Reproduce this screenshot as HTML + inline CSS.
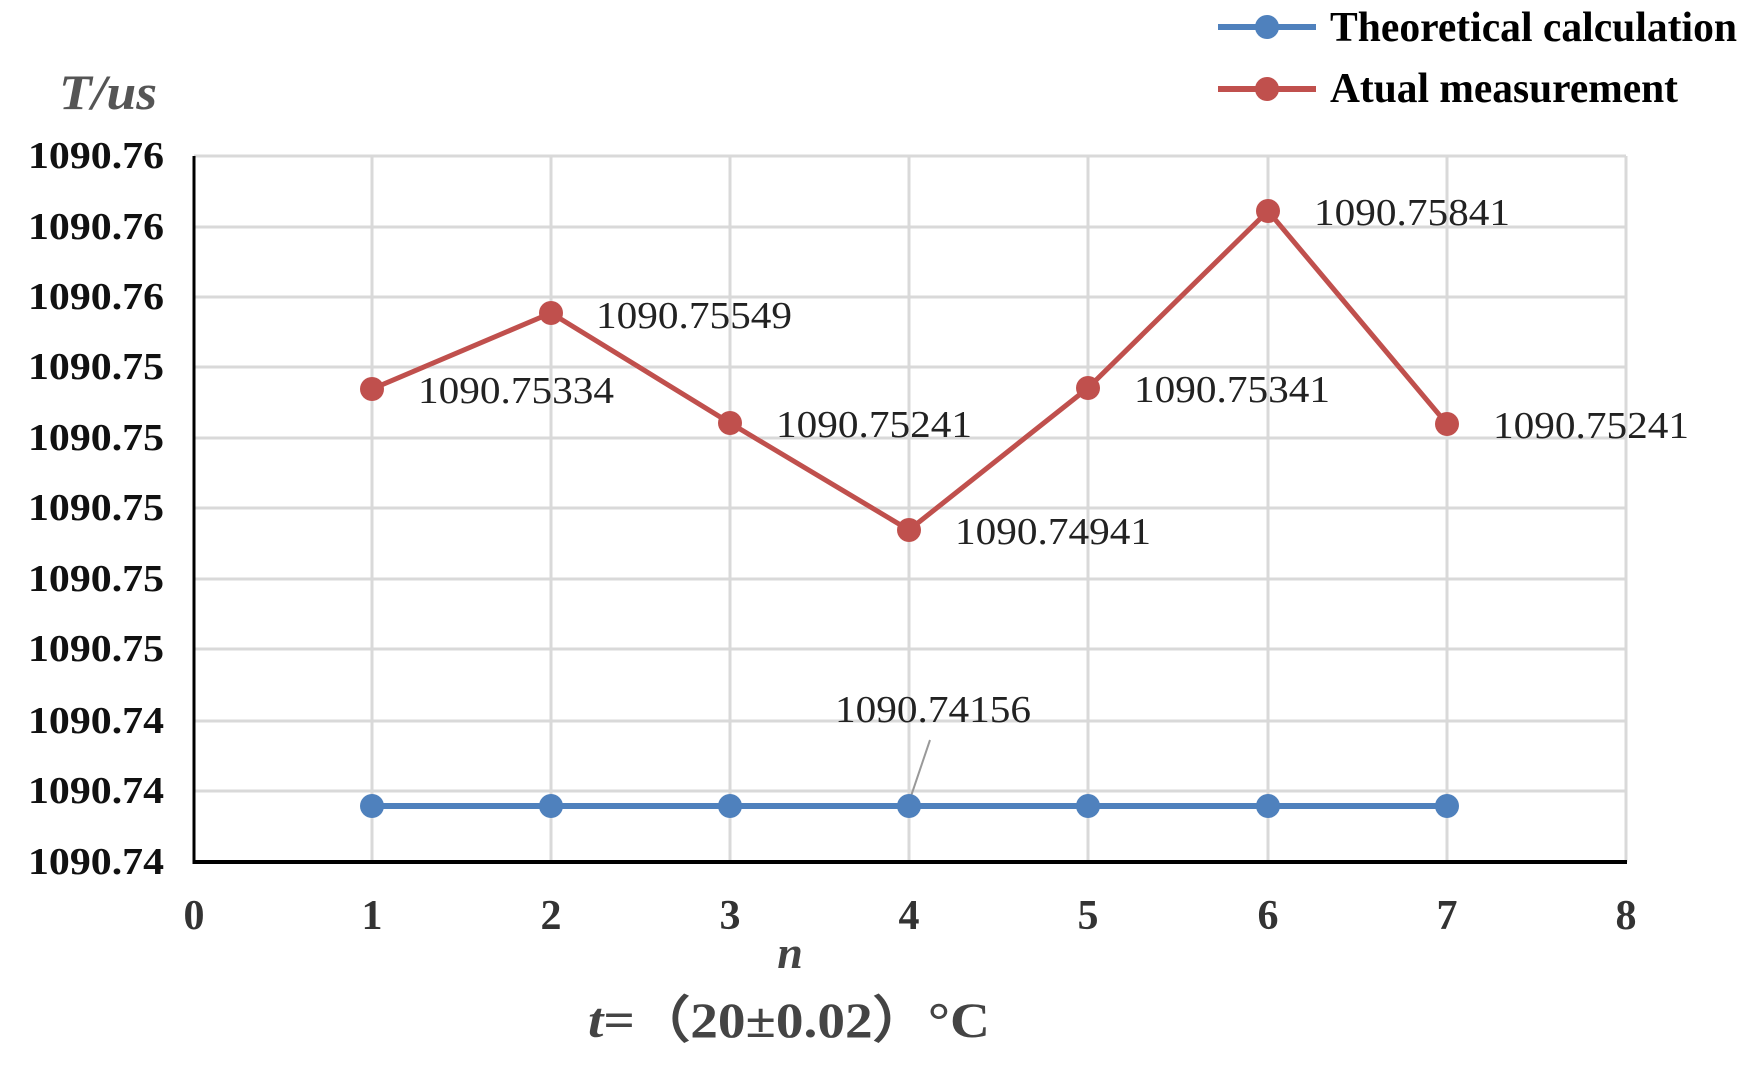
<!DOCTYPE html>
<html><head><meta charset="utf-8"><style>html,body{margin:0;padding:0;background:#fff}svg{display:block}</style></head>
<body>
<svg width="1759" height="1070" viewBox="0 0 1759 1070" xmlns="http://www.w3.org/2000/svg" font-family="'Liberation Serif', serif">
<g stroke="#d9d9d9" stroke-width="3">
<line x1="194" y1="156" x2="1626" y2="156"/><line x1="194" y1="227" x2="1626" y2="227"/>
<line x1="194" y1="297" x2="1626" y2="297"/><line x1="194" y1="367" x2="1626" y2="367"/>
<line x1="194" y1="438" x2="1626" y2="438"/><line x1="194" y1="508" x2="1626" y2="508"/>
<line x1="194" y1="579" x2="1626" y2="579"/><line x1="194" y1="649" x2="1626" y2="649"/>
<line x1="194" y1="721" x2="1626" y2="721"/><line x1="194" y1="791" x2="1626" y2="791"/>
<line x1="372" y1="156" x2="372" y2="862"/><line x1="551" y1="156" x2="551" y2="862"/>
<line x1="730" y1="156" x2="730" y2="862"/><line x1="909" y1="156" x2="909" y2="862"/>
<line x1="1088" y1="156" x2="1088" y2="862"/><line x1="1268" y1="156" x2="1268" y2="862"/>
<line x1="1447" y1="156" x2="1447" y2="862"/><line x1="1626" y1="156" x2="1626" y2="862"/>
</g>
<line x1="194" y1="156" x2="194" y2="864" stroke="#000" stroke-width="3"/>
<line x1="193" y1="862" x2="1627" y2="862" stroke="#000" stroke-width="4"/>
<g font-weight="bold" font-size="38" text-anchor="end" fill="#111">
<text x="164" y="168" textLength="136" lengthAdjust="spacingAndGlyphs">1090.76</text>
<text x="164" y="239" textLength="136" lengthAdjust="spacingAndGlyphs">1090.76</text>
<text x="164" y="309" textLength="136" lengthAdjust="spacingAndGlyphs">1090.76</text>
<text x="164" y="379" textLength="136" lengthAdjust="spacingAndGlyphs">1090.75</text>
<text x="164" y="450" textLength="136" lengthAdjust="spacingAndGlyphs">1090.75</text>
<text x="164" y="520" textLength="136" lengthAdjust="spacingAndGlyphs">1090.75</text>
<text x="164" y="591" textLength="136" lengthAdjust="spacingAndGlyphs">1090.75</text>
<text x="164" y="661" textLength="136" lengthAdjust="spacingAndGlyphs">1090.75</text>
<text x="164" y="733" textLength="136" lengthAdjust="spacingAndGlyphs">1090.74</text>
<text x="164" y="803" textLength="136" lengthAdjust="spacingAndGlyphs">1090.74</text>
<text x="164" y="874" textLength="136" lengthAdjust="spacingAndGlyphs">1090.74</text>
</g>
<g font-weight="bold" font-size="42" text-anchor="middle" fill="#333">
<text x="194" y="929">0</text><text x="372" y="929">1</text><text x="551" y="929">2</text>
<text x="730" y="929">3</text><text x="909" y="929">4</text><text x="1088" y="929">5</text>
<text x="1268" y="929">6</text><text x="1447" y="929">7</text><text x="1626" y="929">8</text>
</g>
<text x="790" y="968" font-size="46" font-style="italic" font-weight="bold" fill="#444" text-anchor="middle">n</text>
<text x="588" y="1037" font-size="50" font-weight="bold" fill="#444" textLength="402" lengthAdjust="spacingAndGlyphs"><tspan font-style="italic">t</tspan>=（20±0.02）°C</text>
<text x="59" y="109" font-size="50" font-style="italic" font-weight="bold" fill="#555" textLength="98" lengthAdjust="spacingAndGlyphs">T/us</text>
<line x1="908" y1="805" x2="930" y2="740" stroke="#999" stroke-width="2"/>
<polyline points="372,806 551,806 730,806 909,806 1088,806 1268,806 1447,806" fill="none" stroke="#4F81BD" stroke-width="6"/>
<g fill="#4F81BD"><circle cx="372" cy="806" r="12"/><circle cx="551" cy="806" r="12"/><circle cx="730" cy="806" r="12"/><circle cx="909" cy="806" r="12"/><circle cx="1088" cy="806" r="12"/><circle cx="1268" cy="806" r="12"/><circle cx="1447" cy="806" r="12"/></g>
<polyline points="372,389 551,313 730,423 909,530 1088,388 1268,211 1447,424" fill="none" stroke="#C0504D" stroke-width="5"/>
<g fill="#C0504D"><circle cx="372" cy="389" r="12"/><circle cx="551" cy="313" r="12"/><circle cx="730" cy="423" r="12"/><circle cx="909" cy="530" r="12"/><circle cx="1088" cy="388" r="12"/><circle cx="1268" cy="211" r="12"/><circle cx="1447" cy="424" r="12"/></g>
<g font-size="38" fill="#222">
<text x="418" y="403" textLength="196" lengthAdjust="spacingAndGlyphs">1090.75334</text>
<text x="596" y="328" textLength="196" lengthAdjust="spacingAndGlyphs">1090.75549</text>
<text x="776" y="437" textLength="196" lengthAdjust="spacingAndGlyphs">1090.75241</text>
<text x="955" y="544" textLength="196" lengthAdjust="spacingAndGlyphs">1090.74941</text>
<text x="1134" y="402" textLength="196" lengthAdjust="spacingAndGlyphs">1090.75341</text>
<text x="1314" y="225" textLength="196" lengthAdjust="spacingAndGlyphs">1090.75841</text>
<text x="1493" y="438" textLength="196" lengthAdjust="spacingAndGlyphs">1090.75241</text>
<text x="835" y="722" textLength="196" lengthAdjust="spacingAndGlyphs">1090.74156</text>
</g>
<line x1="1218" y1="27" x2="1316" y2="27" stroke="#4F81BD" stroke-width="6"/>
<circle cx="1267" cy="27" r="12" fill="#4F81BD"/>
<line x1="1218" y1="89" x2="1316" y2="89" stroke="#C0504D" stroke-width="6"/>
<circle cx="1267" cy="89" r="12" fill="#C0504D"/>
<text x="1330" y="41" font-size="42" font-weight="bold" fill="#000" textLength="407" lengthAdjust="spacingAndGlyphs">Theoretical calculation</text>
<text x="1330" y="102" font-size="42" font-weight="bold" fill="#000" textLength="348" lengthAdjust="spacingAndGlyphs">Atual measurement</text>
</svg>
</body></html>
